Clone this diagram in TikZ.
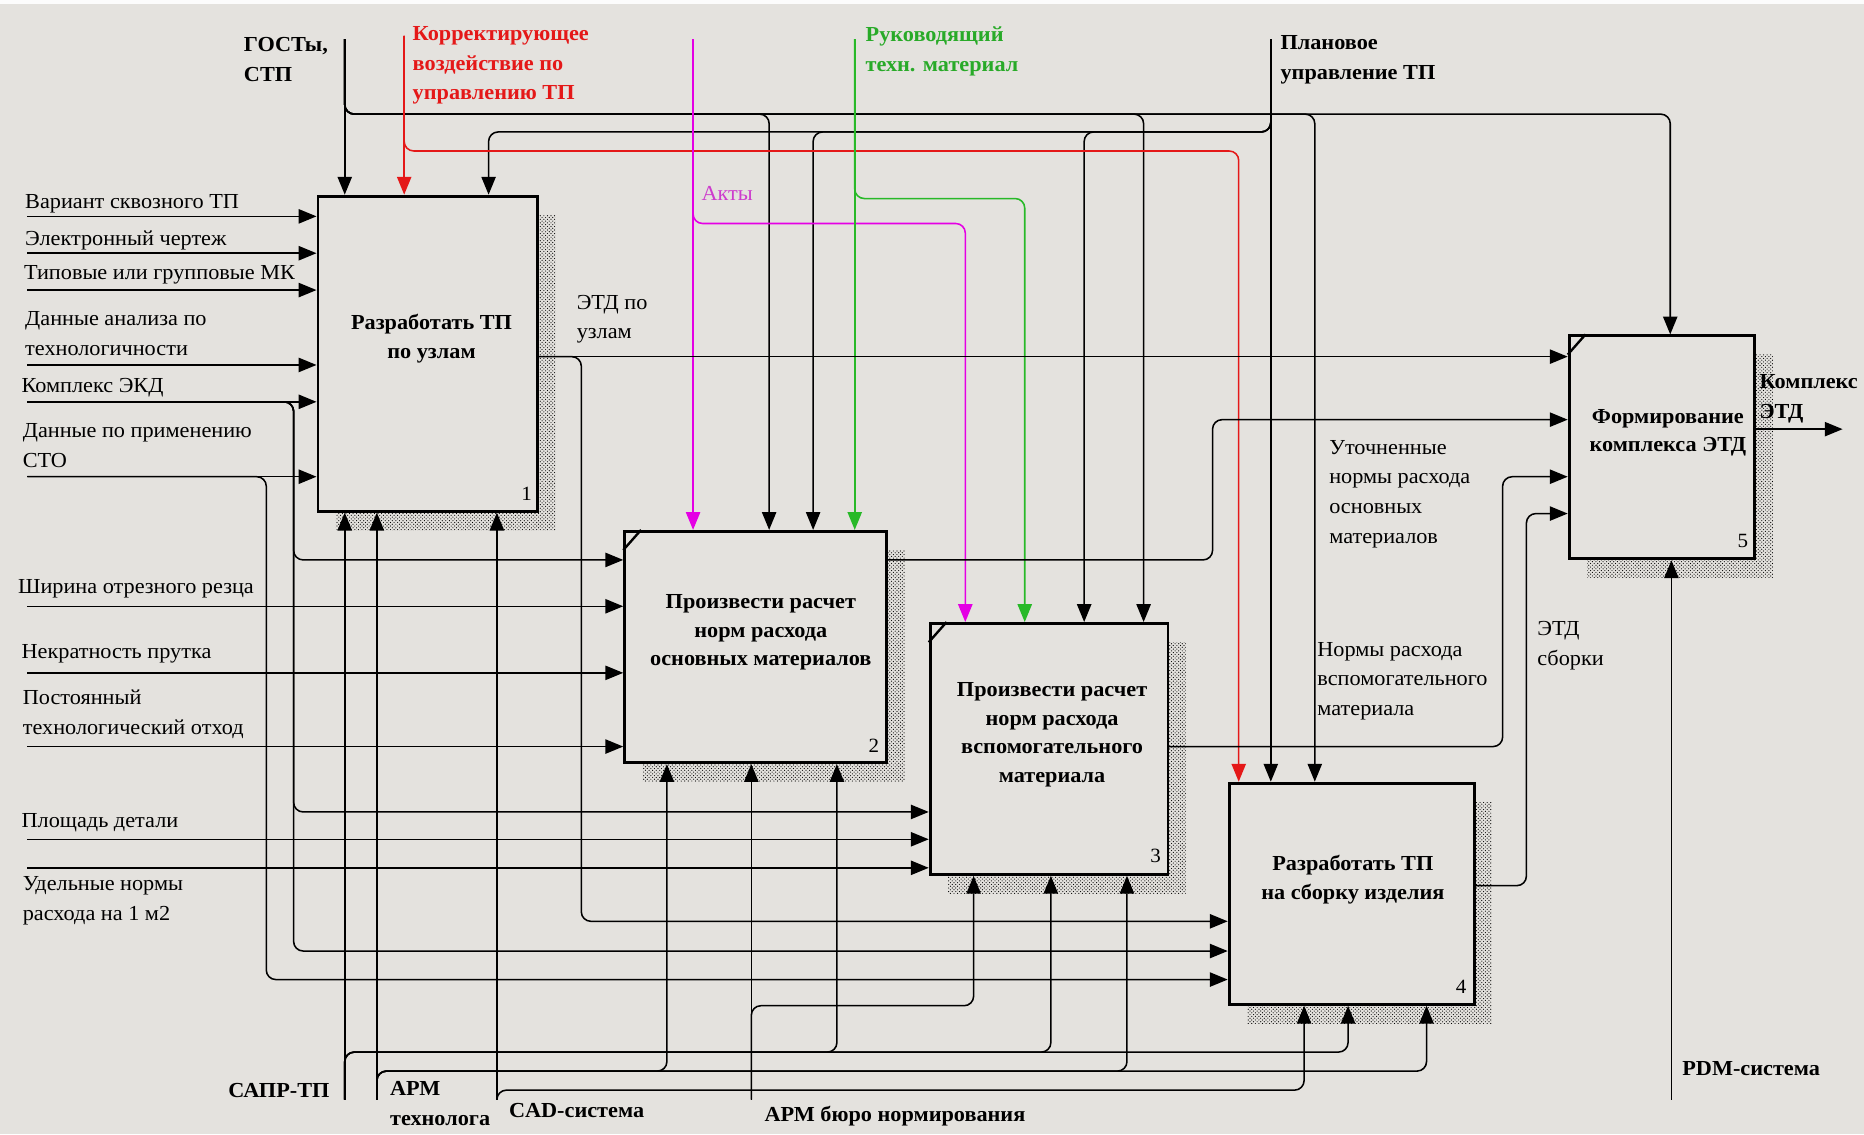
\documentclass[tikz,border=0pt]{standalone}
\usepackage{fontspec}
\setmainfont[FakeStretch=1.04]{Liberation Serif}
\usetikzlibrary{arrows.meta,patterns,calc}
\definecolor{bgc}{RGB}{228,226,222}
\definecolor{cred}{RGB}{228,24,24}
\definecolor{cmag}{RGB}{228,0,228}
\definecolor{cmagt}{RGB}{205,60,205}
\definecolor{cgrn}{RGB}{40,185,40}
\definecolor{cgrnt}{RGB}{40,170,40}
\tikzset{
 box/.style={draw, line width=2.5pt, fill=bgc, inner sep=0pt},
 shadowbox/.style={pattern=crosshatch dots, pattern color=black},
 arr/.style={line width=1.3pt, rounded corners=8pt, -{Triangle[length=15pt,width=12pt]}},
 lbl/.style={anchor=west, align=left, inner sep=0pt, font=\fontsize{18}{25}\selectfont},
 blbl/.style={anchor=west, align=left, inner sep=0pt, font=\fontsize{18}{25}\selectfont\bfseries},
 btxt/.style={align=center, inner sep=0pt, font=\fontsize{18}{24}\selectfont\bfseries},
 num/.style={inner sep=0pt, font=\fontsize{17}{17}\selectfont},
 diag/.style={line width=2pt},
}
\begin{document}
\begin{tikzpicture}[x=1pt,y=-1pt]
\useasboundingbox (0,0) rectangle (1568,954);
\fill[bgc] (0,0) rectangle (1568,954);
\fill[white!90!bgc] (0,0) rectangle (1568,3.5);

% shadows
\fill[shadowbox] (282.5,181) rectangle (467.5,446);
\fill[shadowbox] (540.5,463) rectangle (761,657.5);
\fill[shadowbox] (797.5,540.7) rectangle (997.5,751.5);
\fill[shadowbox] (1049,674.7) rectangle (1255,861);
\fill[shadowbox] (1335,298.6) rectangle (1491.3,486);

% boxes
\node[box, minimum width=185pt, minimum height=265pt] (b1) at (360,297.5) {};
\node[box, minimum width=220.5pt, minimum height=194.5pt] (b2) at (635.75,544.25) {};
\node[box, minimum width=200pt, minimum height=211pt] (b3) at (882.5,630) {};
\node[box, minimum width=206pt, minimum height=186pt] (b4) at (1137,751.8) {};
\node[box, minimum width=156pt, minimum height=187.5pt] (b5) at (1398,376.3) {};

\draw[diag] ($(b2.north west)+(0,17)$) -- ($(b2.north west)+(15,0)$);
\draw[diag] ($(b3.north west)+(0,17)$) -- ($(b3.north west)+(15,0)$);
\draw[diag] ($(b5.north west)+(0,17)$) -- ($(b5.north west)+(15,0)$);

\node[btxt] (t1) at (363,285) {Разработать ТП\\по узлам};
\node[btxt] (t2) at (640,532) {Произвести расчет\\норм расхода\\основных материалов};
\node[btxt] (t3) at (885,618) {Произвести расчет\\норм расхода\\вспомогательного\\материала};
\node[btxt] (t4) at (1138,740) {Разработать ТП\\на сборку изделия};
\node[btxt] (t5) at (1403,364) {Формирование\\комплекса ЭТД};
\node[num] (n1) at (443,415) {1};
\node[num] (n2) at (735,627) {2};
\node[num] (n3) at (972,720) {3};
\node[num] (n4) at (1229,830) {4};
\node[num] (n5) at (1466,455) {5};

% ---------- controls (top)
\coordinate (cG) at (290,33);
\coordinate (gb2) at (647,96);
\coordinate (gb3) at (962,96);
\coordinate (gb4) at (1106,96);
\coordinate (gb5) at (1405,96);
\draw[arr] (cG) -- (cG |- b1.north);
\draw[arr] (cG) |- (gb5) -- (gb5 |- b5.north);
\draw[arr] (cG) |- (gb2) -- (gb2 |- b2.north);
\draw[arr] (cG) |- (gb3) -- (gb3 |- b3.north);
\draw[arr] (cG) |- (gb4) -- (gb4 |- b4.north);

\coordinate (cP) at (1069,33);
\coordinate (pb1) at (411,111);
\coordinate (pb2) at (684,111);
\coordinate (pb3) at (912,111);
\draw[arr] (cP) -- (cP |- b4.north);
\draw[arr] (cP) |- (pb1) -- (pb1 |- b1.north);
\draw[arr] (cP) |- (pb2) -- (pb2 |- b2.north);
\draw[arr] (cP) |- (pb3) -- (pb3 |- b3.north);

\coordinate (cR) at (340,30);
\coordinate (rb4) at (1042,127);
\draw[arr, cred] (cR) -- (cR |- b1.north);
\draw[arr, cred] (cR) |- (rb4) -- (rb4 |- b4.north);

\coordinate (cM) at (583,33);
\coordinate (mb3) at (812,188);
\draw[arr, cmag] (cM) -- (cM |- b2.north);
\draw[arr, cmag] (cM) |- (mb3) -- (mb3 |- b3.north);

\coordinate (cV) at (719,33);
\coordinate (vb3) at (862,167);
\draw[arr, cgrn] (cV) -- (cV |- b2.north);
\draw[arr, cgrn] (cV) |- (vb3) -- (vb3 |- b3.north);

% ---------- inputs (left)
\coordinate (i1) at (23,182);
\coordinate (i2) at (23,213);
\coordinate (i3) at (23,244);
\coordinate (i4) at (23,307);
\coordinate (i5) at (23,338);
\coordinate (i6) at (23,401);
\coordinate (i7) at (23,510);
\coordinate (i8) at (23,566);
\coordinate (i9) at (23,628);
\coordinate (i10) at (23,706);
\coordinate (i11) at (23,730);
\draw[arr] (i1) -- (i1 -| b1.west);
\draw[arr] (i2) -- (i2 -| b1.west);
\draw[arr] (i3) -- (i3 -| b1.west);
\draw[arr] (i4) -- (i4 -| b1.west);
\draw[arr] (i5) -- (i5 -| b1.west);
\draw[arr] (i6) -- (i6 -| b1.west);
\draw[arr] (i7) -- (i7 -| b2.west);
\draw[arr] (i8) -- (i8 -| b2.west);
\draw[arr] (i9) -- (i9 -| b2.west);
\draw[arr] (i10) -- (i10 -| b3.west);
\draw[arr] (i11) -- (i11 -| b3.west);

\coordinate (ek2) at (247,471);
\coordinate (ek3) at (247,683);
\coordinate (ek4) at (247,800);
\draw[arr] (i5) -| (ek2) -- (ek2 -| b2.west);
\draw[arr] (i5) -| (ek3) -- (ek3 -| b3.west);
\draw[arr] (i5) -| (ek4) -- (ek4 -| b4.west);
\coordinate (st4) at (224,824);
\draw[arr] (i6) -| (st4) -- (st4 -| b4.west);

% ---------- outputs
\coordinate (o1) at (452.5,300);
\coordinate (e4) at (489,775);
\draw[arr] (o1) -- (o1 -| b5.west);
\draw[arr] (o1) -| (e4) -- (e4 -| b4.west);
\coordinate (o2) at (746,471);
\coordinate (u5) at (1020,353);
\draw[arr] (o2) -| (u5) -- (u5 -| b5.west);
\coordinate (o3) at (982.5,628);
\coordinate (r5) at (1264,401);
\draw[arr] (o3) -| (r5) -- (r5 -| b5.west);
\coordinate (o4) at (1240,745);
\coordinate (s5) at (1284,432);
\draw[arr] (o4) -| (s5) -- (s5 -| b5.west);
\coordinate (o5) at (1476,361);
\coordinate (oe) at (1550,361);
\draw[arr] (o5) -- (oe);

% ---------- mechanisms (bottom)
\coordinate (mS) at (290,925);
\coordinate (sp2) at (704,885);
\coordinate (sp3) at (884,885);
\coordinate (sp4) at (1134,885);
\draw[arr] (mS) -- (mS |- b1.south);
\draw[arr] (mS) |- (sp2) -- (sp2 |- b2.south);
\draw[arr] (mS) |- (sp3) -- (sp3 |- b3.south);
\draw[arr] (mS) |- (sp4) -- (sp4 |- b4.south);

\coordinate (mA) at (317,925);
\coordinate (ap2) at (561,901);
\coordinate (ap3) at (948,901);
\coordinate (ap4) at (1200,901);
\draw[arr] (mA) -- (mA |- b1.south);
\draw[arr] (mA) |- (ap2) -- (ap2 |- b2.south);
\draw[arr] (mA) |- (ap3) -- (ap3 |- b3.south);
\draw[arr] (mA) |- (ap4) -- (ap4 |- b4.south);

\coordinate (mC) at (418,925);
\coordinate (cp4) at (1097,917);
\draw[arr] (mC) -- (mC |- b1.south);
\draw[arr] (mC) |- (cp4) -- (cp4 |- b4.south);

\coordinate (mB) at (632,925);
\coordinate (bp3) at (819,846);
\draw[arr] (mB) -- (mB |- b2.south);
\draw[arr] (mB) |- (bp3) -- (bp3 |- b3.south);

\coordinate (mP) at (1406,925);
\draw[arr] (mP) -- (mP |- b5.south);

% ---------- labels
\node[blbl] (lG) at (205,50) {ГОСТы,\\СТП};
\node[blbl, text=cred] (lR) at (347,55) {Корректирующее\\воздействие по\\управлению ТП};
\node[blbl, text=cgrnt] (lV) at (728,43) {Руководящий\\техн. материал};
\node[blbl] (lP) at (1077,50.5) {Плановое\\управление ТП};
\node[lbl, text=cmagt] (lM) at (590,163) {Акты};

\node[lbl] (l1) at (21,171) {Вариант сквозного ТП};
\node[lbl] (l2) at (21,202) {Электронный чертеж};
\node[lbl] (l3) at (20,231) {Типовые или групповые МК};
\node[lbl] (l4) at (21,280.5) {Данные анализа по\\технологичности};
\node[lbl] (l5) at (18,326) {Комплекс ЭКД};
\node[lbl] (l6) at (19,375) {Данные по применению\\СТО};
\node[lbl] (l7) at (15,495) {Ширина отрезного резца};
\node[lbl] (l8) at (18,550) {Некратность прутка};
\node[lbl] (l9) at (19,601) {Постоянный\\технологический отход};
\node[lbl] (l10) at (18,692) {Площадь детали};
\node[lbl] (l11) at (19,757.5) {Удельные нормы\\расхода на 1 м2};

\node[lbl] (lo1) at (485,268.5) {ЭТД по\\узлам};
\node[lbl] (lo2) at (1118,415.5) {Уточненные\\нормы расхода\\основных\\материалов};
\node[lbl] (lo3) at (1108,573) {Нормы расхода\\вспомогательного\\материала};
\node[lbl] (lo4) at (1293,543) {ЭТД\\сборки};
\node[blbl] (lo5) at (1480,335.5) {Комплекс\\ЭТД};

\node[blbl] (lS) at (192,917) {САПР-ТП};
\node[blbl] (lA) at (328,928.5) {АРМ\\технолога};
\node[blbl] (lC) at (428,934) {CAD-система};
\node[blbl] (lB) at (643,939) {АРМ бюро нормирования};
\node[blbl] (lPd) at (1415,899) {PDM-система};
\end{tikzpicture}
\end{document}
